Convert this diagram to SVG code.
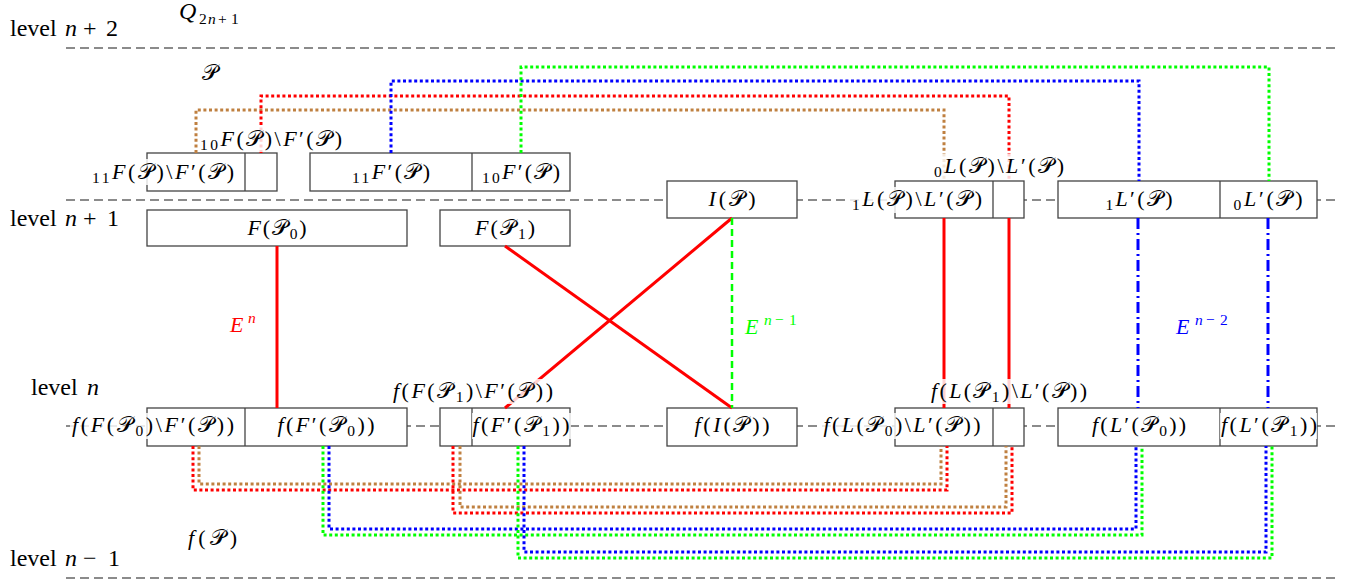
<svg xmlns="http://www.w3.org/2000/svg" width="1351" height="584" viewBox="0 0 1351 584">
<style>
.t{font-family:"Liberation Serif","DejaVu Serif",serif;font-size:22px;fill:#000}
.L{font-size:24px}
.c{text-anchor:middle}
.i{font-style:italic}
.s{font-size:15.5px}
.lvl{stroke:#666;stroke-width:1.3;stroke-dasharray:9 5;fill:none}
.box{fill:#fff;stroke:#444;stroke-width:1.3}
.div{stroke:#444;stroke-width:1.3}
.bg{fill:#fff;fill-opacity:0.82}
.dot{fill:none;stroke-width:3;stroke-dasharray:3 2.6}
.red{stroke:#f00}.blue{stroke:#00f}.green{stroke:#0f0}.brown{stroke:#bf8040}
.solid{fill:none;stroke-width:3}
</style>
<g id="levels">
<line class="lvl" x1="66" y1="48" x2="1336" y2="48"/>
<line class="lvl" x1="66" y1="200" x2="1336" y2="200"/>
<line class="lvl" x1="66" y1="426" x2="1336" y2="426"/>
<line class="lvl" x1="66" y1="578" x2="1336" y2="578"/>
<text class="t L" y="36"><tspan x="10">level</tspan><tspan class="i" x="65">n</tspan><tspan x="83">+</tspan><tspan x="106">2</tspan></text>
<text class="t L" y="226"><tspan x="10">level</tspan><tspan class="i" x="65">n</tspan><tspan x="83">+</tspan><tspan x="107">1</tspan></text>
<text class="t L" y="395"><tspan x="31">level</tspan><tspan class="i" x="87">n</tspan></text>
<text class="t L" y="566"><tspan x="10">level</tspan><tspan class="i" x="65">n</tspan><tspan x="83">−</tspan><tspan x="108">1</tspan></text>
<text class="t L" y="19"><tspan class="i" x="179">Q</tspan><tspan class="s" dy="5" x="199">2</tspan><tspan class="s i" x="208">n</tspan><tspan class="s" x="218">+</tspan><tspan class="s" x="231">1</tspan></text>
<text class="t" x="202" y="80">𝒫</text>
<text class="t" x="188" y="545" textLength="49"><tspan class="i">f</tspan>(𝒫)</text>
</g>
<g id="boxA"><rect class="box" x="147" y="153" width="130" height="38"/><line class="div" x1="245" y1="153" x2="245" y2="191"/></g>
<g id="boxB"><rect class="box" x="310" y="153" width="260" height="38"/><line class="div" x1="472" y1="153" x2="472" y2="191"/></g>
<g id="boxI"><rect class="box" x="667" y="181" width="130" height="37"/></g>
<g id="boxL"><rect class="box" x="895" y="181" width="129" height="37"/><line class="div" x1="993" y1="181" x2="993" y2="218"/></g>
<g id="boxLp"><rect class="box" x="1058" y="181" width="259" height="37"/><line class="div" x1="1220" y1="181" x2="1220" y2="218"/></g>
<g id="boxFP0"><rect class="box" x="147" y="210" width="260" height="36"/></g>
<g id="boxFP1"><rect class="box" x="440" y="210" width="130" height="36"/></g>
<g id="boxfF0"><rect class="box" x="147" y="408" width="260" height="38"/><line class="div" x1="245" y1="408" x2="245" y2="446"/></g>
<g id="boxfF1"><rect class="box" x="440" y="408" width="130" height="38"/><line class="div" x1="472" y1="408" x2="472" y2="446"/></g>
<g id="boxfI"><rect class="box" x="667" y="408" width="130" height="38"/></g>
<g id="boxfL"><rect class="box" x="895" y="408" width="129" height="38"/><line class="div" x1="993" y1="408" x2="993" y2="446"/></g>
<g id="boxfLp"><rect class="box" x="1058" y="408" width="259" height="38"/><line class="div" x1="1220" y1="408" x2="1220" y2="446"/></g>
<g id="connectors">
<path class="dot brown" d="M196 153V110H944V181"/>
<path class="dot red" d="M261 153V96H1009V181"/>
<path class="dot blue" d="M391 153V81H1139V181"/>
<path class="dot green" d="M521 153V67H1269V181"/>
<path class="dot red" d="M193 446V490H947V446"/>
<path class="dot brown" d="M199 446V484H941V446"/>
<path class="dot red" d="M453 446V513H1012V446"/>
<path class="dot brown" d="M460 446V507H1006V446"/>
<path class="dot blue" d="M329 446V529H1136V446"/>
<path class="dot green" d="M323 446V535H1142V446"/>
<path class="dot blue" d="M524 446V552H1266V446"/>
<path class="dot green" d="M518 446V558H1272V446"/>
<path class="solid red" d="M277 246V408"/>
<path class="solid red" d="M505 246L732 408"/>
<path class="solid red" d="M732 218L505 408"/>
<path d="M732 218V408" fill="none" stroke="#0f0" stroke-width="2.5" stroke-dasharray="7 4"/>
<path class="solid red" d="M944 218V408"/>
<path class="solid red" d="M1009 218V408"/>
<path d="M1138 218V408M1268 218V408" fill="none" stroke="#00f" stroke-width="3" stroke-dasharray="11 4 2 4"/>
<text class="t" y="332" style="fill:#f00"><tspan class="i" x="230">E</tspan><tspan class="s i" dy="-9" x="248">n</tspan></text>
<text class="t" y="334" style="fill:#0f0"><tspan class="i" x="745">E</tspan><tspan class="s i" dy="-9" x="764">n</tspan><tspan class="s" x="775">−</tspan><tspan class="s" x="789">1</tspan></text>
<text class="t" y="334" style="fill:#00f"><tspan class="i" x="1176">E</tspan><tspan class="s i" dy="-9" x="1195">n</tspan><tspan class="s" x="1206">−</tspan><tspan class="s" x="1220">2</tspan></text>
</g>
<g id="labels">
<rect class="bg" x="90" y="159" width="146" height="26"/>
<text class="t c" x="163" y="179" textLength="142"><tspan class="s" dy="4">11</tspan><tspan class="i" dy="-4">F</tspan>(𝒫)\<tspan class="i">F</tspan>′(𝒫)</text>
<rect class="bg" x="198" y="127" width="146" height="25"/>
<text class="t c" x="271" y="146" textLength="142"><tspan class="s" dy="4">10</tspan><tspan class="i" dy="-4">F</tspan>(𝒫)\<tspan class="i">F</tspan>′(𝒫)</text>
<text class="t c" x="391" y="179" textLength="78"><tspan class="s" dy="4">11</tspan><tspan class="i" dy="-4">F</tspan>′(𝒫)</text>
<text class="t c" x="521" y="179" textLength="78"><tspan class="s" dy="4">10</tspan><tspan class="i" dy="-4">F</tspan>′(𝒫)</text>
<text class="t c" x="732" y="206" textLength="47"><tspan class="i">I</tspan>(𝒫)</text>
<rect class="bg" x="850" y="187" width="134" height="26"/>
<text class="t c" x="917" y="206" textLength="130"><tspan class="s" dy="4">1</tspan><tspan class="i" dy="-4">L</tspan>(𝒫)\<tspan class="i">L</tspan>′(𝒫)</text>
<rect class="bg" x="932" y="154" width="134" height="25"/>
<text class="t c" x="999" y="173" textLength="130"><tspan class="s" dy="4">0</tspan><tspan class="i" dy="-4">L</tspan>(𝒫)\<tspan class="i">L</tspan>′(𝒫)</text>
<text class="t c" x="1139" y="206" textLength="67"><tspan class="s" dy="4">1</tspan><tspan class="i" dy="-4">L</tspan>′(𝒫)</text>
<text class="t c" x="1268" y="206" textLength="69"><tspan class="s" dy="4">0</tspan><tspan class="i" dy="-4">L</tspan>′(𝒫)</text>
<text class="t c" x="277" y="235" textLength="59"><tspan class="i">F</tspan>(𝒫<tspan class="s" dy="4">0</tspan><tspan dy="-4">)</tspan></text>
<text class="t c" x="505" y="235" textLength="60"><tspan class="i">F</tspan>(𝒫<tspan class="s" dy="4">1</tspan><tspan dy="-4">)</tspan></text>
<rect class="bg" x="70" y="413" width="166" height="26"/>
<text class="t c" x="153" y="432" textLength="162"><tspan class="i">f</tspan>(<tspan class="i">F</tspan>(𝒫<tspan class="s" dy="4">0</tspan><tspan dy="-4">)\</tspan><tspan class="i">F</tspan>′(𝒫))</text>
<text class="t c" x="326" y="432" textLength="97"><tspan class="i">f</tspan>(<tspan class="i">F</tspan>′(𝒫<tspan class="s" dy="4">0</tspan><tspan dy="-4">))</tspan></text>
<rect class="bg" x="391" y="379" width="164" height="25"/>
<text class="t c" x="473" y="398" textLength="160"><tspan class="i">f</tspan>(<tspan class="i">F</tspan>(𝒫<tspan class="s" dy="4">1</tspan><tspan dy="-4">)\</tspan><tspan class="i">F</tspan>′(𝒫))</text>
<rect class="bg" x="472" y="413" width="99" height="26"/>
<text class="t c" x="521" y="432" textLength="97"><tspan class="i">f</tspan>(<tspan class="i">F</tspan>′(𝒫<tspan class="s" dy="4">1</tspan><tspan dy="-4">))</tspan></text>
<text class="t c" x="732" y="432" textLength="75"><tspan class="i">f</tspan>(<tspan class="i">I</tspan>(𝒫))</text>
<rect class="bg" x="821" y="413" width="161" height="26"/>
<text class="t c" x="902" y="432" textLength="157"><tspan class="i">f</tspan>(<tspan class="i">L</tspan>(𝒫<tspan class="s" dy="4">0</tspan><tspan dy="-4">)\</tspan><tspan class="i">L</tspan>′(𝒫))</text>
<rect class="bg" x="929" y="379" width="160" height="25"/>
<text class="t c" x="1009" y="398" textLength="156"><tspan class="i">f</tspan>(<tspan class="i">L</tspan>(𝒫<tspan class="s" dy="4">1</tspan><tspan dy="-4">)\</tspan><tspan class="i">L</tspan>′(𝒫))</text>
<text class="t c" x="1139" y="432" textLength="94"><tspan class="i">f</tspan>(<tspan class="i">L</tspan>′(𝒫<tspan class="s" dy="4">0</tspan><tspan dy="-4">))</tspan></text>
<rect class="bg" x="1220" y="413" width="97" height="26"/>
<text class="t c" x="1269" y="432" textLength="96"><tspan class="i">f</tspan>(<tspan class="i">L</tspan>′(𝒫<tspan class="s" dy="4">1</tspan><tspan dy="-4">))</tspan></text>
</g>
</svg>
